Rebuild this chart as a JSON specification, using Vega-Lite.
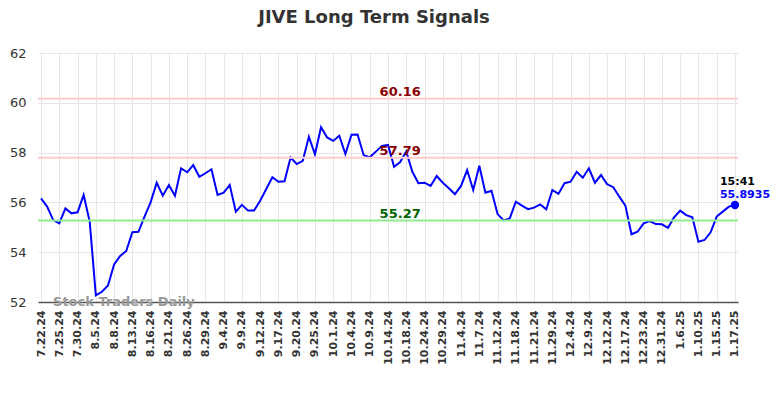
{
  "$schema": "https://vega.github.io/schema/vega-lite/v6.json",
  "width": 700,
  "height": 249,
  "autosize": {"type": "none"},
  "padding": {"left": 38, "top": 53, "right": 46, "bottom": 96},
  "background": "white",
  "title": {"text": "JIVE Long Term Signals", "fontSize": 18, "fontWeight": "bold", "color": "#333333", "font": "DejaVu Sans", "anchor": "middle", "dx": -14, "offset": 20},
  "config": {"view": {"stroke": null}, "font": "DejaVu Sans"},
  "datasets": {
    "prices": [
      {"date": "7.22.24", "close": 56.16}, {"date": "7.23.24", "close": 55.83}, {"date": "7.24.24", "close": 55.29},
      {"date": "7.25.24", "close": 55.16}, {"date": "7.26.24", "close": 55.76}, {"date": "7.29.24", "close": 55.56},
      {"date": "7.30.24", "close": 55.60}, {"date": "7.31.24", "close": 56.30}, {"date": "8.2.24", "close": 55.22},
      {"date": "8.5.24", "close": 52.27}, {"date": "8.6.24", "close": 52.41}, {"date": "8.7.24", "close": 52.66},
      {"date": "8.8.24", "close": 53.51}, {"date": "8.9.24", "close": 53.85}, {"date": "8.12.24", "close": 54.05},
      {"date": "8.13.24", "close": 54.80}, {"date": "8.14.24", "close": 54.82}, {"date": "8.15.24", "close": 55.43},
      {"date": "8.16.24", "close": 56.00}, {"date": "8.19.24", "close": 56.79}, {"date": "8.20.24", "close": 56.27},
      {"date": "8.21.24", "close": 56.70}, {"date": "8.22.24", "close": 56.27}, {"date": "8.23.24", "close": 57.37},
      {"date": "8.26.24", "close": 57.21}, {"date": "8.27.24", "close": 57.50}, {"date": "8.28.24", "close": 57.03},
      {"date": "8.29.24", "close": 57.17}, {"date": "8.30.24", "close": 57.33}, {"date": "9.3.24", "close": 56.30},
      {"date": "9.4.24", "close": 56.39}, {"date": "9.5.24", "close": 56.70}, {"date": "9.6.24", "close": 55.63},
      {"date": "9.9.24", "close": 55.90}, {"date": "9.10.24", "close": 55.67}, {"date": "9.11.24", "close": 55.67},
      {"date": "9.12.24", "close": 56.07}, {"date": "9.13.24", "close": 56.54}, {"date": "9.16.24", "close": 57.01},
      {"date": "9.17.24", "close": 56.83}, {"date": "9.18.24", "close": 56.85}, {"date": "9.19.24", "close": 57.80},
      {"date": "9.20.24", "close": 57.54}, {"date": "9.23.24", "close": 57.67}, {"date": "9.24.24", "close": 58.64},
      {"date": "9.25.24", "close": 57.93}, {"date": "9.26.24", "close": 59.02}, {"date": "9.30.24", "close": 58.61},
      {"date": "10.1.24", "close": 58.47}, {"date": "10.2.24", "close": 58.68}, {"date": "10.3.24", "close": 57.94},
      {"date": "10.4.24", "close": 58.72}, {"date": "10.7.24", "close": 58.73}, {"date": "10.8.24", "close": 57.90},
      {"date": "10.9.24", "close": 57.81}, {"date": "10.10.24", "close": 58.04}, {"date": "10.11.24", "close": 58.27},
      {"date": "10.14.24", "close": 58.31}, {"date": "10.15.24", "close": 57.43}, {"date": "10.17.24", "close": 57.62},
      {"date": "10.18.24", "close": 58.04}, {"date": "10.21.24", "close": 57.23}, {"date": "10.23.24", "close": 56.77},
      {"date": "10.24.24", "close": 56.79}, {"date": "10.25.24", "close": 56.66}, {"date": "10.28.24", "close": 57.06},
      {"date": "10.29.24", "close": 56.79}, {"date": "10.30.24", "close": 56.57}, {"date": "11.1.24", "close": 56.33},
      {"date": "11.4.24", "close": 56.66}, {"date": "11.5.24", "close": 57.30}, {"date": "11.6.24", "close": 56.50},
      {"date": "11.7.24", "close": 57.47}, {"date": "11.8.24", "close": 56.39}, {"date": "11.11.24", "close": 56.47},
      {"date": "11.12.24", "close": 55.53}, {"date": "11.14.24", "close": 55.28}, {"date": "11.15.24", "close": 55.36},
      {"date": "11.18.24", "close": 56.03}, {"date": "11.19.24", "close": 55.87}, {"date": "11.20.24", "close": 55.73},
      {"date": "11.21.24", "close": 55.79}, {"date": "11.25.24", "close": 55.92}, {"date": "11.27.24", "close": 55.72},
      {"date": "11.29.24", "close": 56.50}, {"date": "12.2.24", "close": 56.34}, {"date": "12.3.24", "close": 56.77},
      {"date": "12.4.24", "close": 56.83}, {"date": "12.5.24", "close": 57.23}, {"date": "12.6.24", "close": 56.99},
      {"date": "12.9.24", "close": 57.37}, {"date": "12.10.24", "close": 56.79}, {"date": "12.11.24", "close": 57.10},
      {"date": "12.12.24", "close": 56.73}, {"date": "12.13.24", "close": 56.61}, {"date": "12.16.24", "close": 56.23},
      {"date": "12.17.24", "close": 55.87}, {"date": "12.18.24", "close": 54.72}, {"date": "12.20.24", "close": 54.82},
      {"date": "12.23.24", "close": 55.16}, {"date": "12.26.24", "close": 55.25}, {"date": "12.30.24", "close": 55.13},
      {"date": "12.31.24", "close": 55.12}, {"date": "1.2.25", "close": 54.98}, {"date": "1.3.25", "close": 55.40},
      {"date": "1.6.25", "close": 55.67}, {"date": "1.7.25", "close": 55.49}, {"date": "1.8.25", "close": 55.40},
      {"date": "1.10.25", "close": 54.42}, {"date": "1.13.25", "close": 54.49}, {"date": "1.14.25", "close": 54.80},
      {"date": "1.15.25", "close": 55.43}, {"date": "1.16.25", "close": 55.63}, {"date": "1.16.25 PM", "close": 55.83},
      {"date": "1.17.25", "close": 55.8935}
    ],
    "levels": [
      {"level": 60.16, "kind": "resistance"},
      {"level": 57.79, "kind": "resistance"},
      {"level": 55.27, "kind": "support"}
    ]
  },
  "data": {"name": "prices"},
  "layer": [
    {
      "mark": {"type": "line", "color": "#0000ff", "strokeWidth": 2},
      "encoding": {
        "x": {
          "field": "date", "type": "ordinal", "sort": null,
          "scale": {"type": "point", "padding": 0.5},
          "axis": {
            "title": null,
            "values": ["7.22.24","7.25.24","7.30.24","8.5.24","8.8.24","8.13.24","8.16.24","8.21.24","8.26.24","8.29.24","9.4.24","9.9.24","9.12.24","9.17.24","9.20.24","9.25.24","10.1.24","10.4.24","10.9.24","10.14.24","10.18.24","10.24.24","10.29.24","11.4.24","11.7.24","11.12.24","11.18.24","11.21.24","11.29.24","12.4.24","12.9.24","12.12.24","12.17.24","12.23.24","12.31.24","1.6.25","1.10.25","1.15.25","1.17.25"],
            "labelAngle": -90, "labelAlign": "right", "labelBaseline": "middle",
            "labelFontSize": 11, "labelFontWeight": "bold", "labelColor": "#333333",
            "labelPadding": 8, "ticks": false,
            "grid": true, "gridColor": "#e6e6e6", "gridWidth": 1,
            "domain": true, "domainColor": "#555555", "domainWidth": 1.5
          }
        },
        "y": {
          "field": "close", "type": "quantitative",
          "scale": {"domain": [52, 62], "nice": false, "zero": false},
          "axis": {
            "title": null, "values": [52, 54, 56, 58, 60, 62],
            "labelFontSize": 13, "labelColor": "#333333", "labelPadding": 12,
            "ticks": false, "domain": false,
            "grid": true, "gridColor": "#e6e6e6", "gridWidth": 1
          }
        }
      }
    },
    {
      "data": {"name": "levels"},
      "mark": {"type": "rule", "strokeWidth": 2},
      "encoding": {
        "y": {"field": "level", "type": "quantitative"},
        "color": {"field": "kind", "type": "nominal", "scale": {"domain": ["resistance", "support"], "range": ["#ffcccc", "#90ee90"]}, "legend": null}
      }
    },
    {
      "data": {"name": "levels"},
      "mark": {"type": "text", "fontSize": 13, "fontWeight": "bold", "baseline": "alphabetic", "dy": -3},
      "encoding": {
        "x": {"datum": "10.17.24"},
        "y": {"field": "level", "type": "quantitative"},
        "text": {"field": "level", "type": "quantitative", "format": ".2f"},
        "color": {"field": "kind", "type": "nominal", "scale": {"domain": ["resistance", "support"], "range": ["#8b0000", "#006400"]}, "legend": null}
      }
    },
    {
      "mark": {"type": "text", "fontSize": 13, "fontWeight": "bold", "color": "#999999", "align": "left", "baseline": "middle", "dx": 12, "dy": 0},
      "transform": [{"filter": "datum.date == '7.22.24'"}],
      "encoding": {
        "x": {"field": "date", "type": "ordinal", "sort": null},
        "y": {"datum": 52},
        "text": {"value": "Stock Traders Daily"}
      }
    },
    {
      "transform": [{"filter": "datum.date == '1.17.25'"}],
      "mark": {"type": "point", "filled": true, "size": 70, "color": "#0000ff", "opacity": 1},
      "encoding": {
        "x": {"field": "date", "type": "ordinal", "sort": null},
        "y": {"field": "close", "type": "quantitative"}
      }
    },
    {
      "transform": [{"filter": "datum.date == '1.17.25'"}],
      "mark": {"type": "text", "fontSize": 11, "fontWeight": "bold", "color": "#000000", "align": "left", "baseline": "middle", "dx": -15, "dy": -23},
      "encoding": {
        "x": {"field": "date", "type": "ordinal", "sort": null},
        "y": {"field": "close", "type": "quantitative"},
        "text": {"value": "15:41"}
      }
    },
    {
      "transform": [{"filter": "datum.date == '1.17.25'"}],
      "mark": {"type": "text", "fontSize": 11, "fontWeight": "bold", "color": "#0000ff", "align": "left", "baseline": "middle", "dx": -15, "dy": -10},
      "encoding": {
        "x": {"field": "date", "type": "ordinal", "sort": null},
        "y": {"field": "close", "type": "quantitative"},
        "text": {"field": "close", "type": "quantitative", "format": ".4f"}
      }
    }
  ],
  "resolve": {"scale": {"color": "independent"}}
}
